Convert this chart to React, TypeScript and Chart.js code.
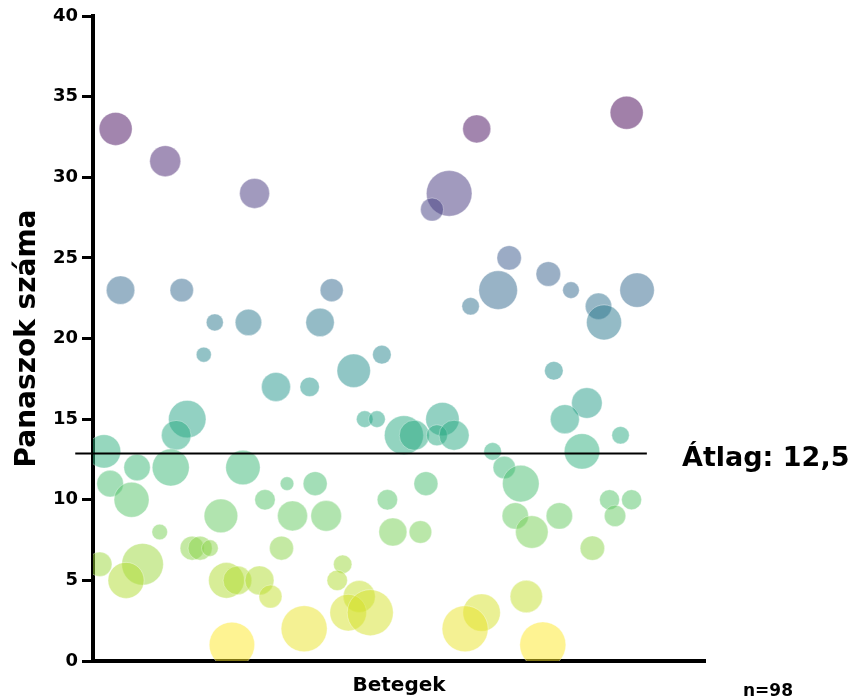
import React, { useEffect, useRef } from "react";
import { Chart, registerables } from "chart.js";

Chart.register(...registerables);

// Patient position along the "Betegek" axis (0–100 scale, no ticks shown)
const patientX = [
  3.7, 11.8, 26.4, 58.2, 55.4, 62.7, 87.2,
  4.5, 14.5, 39.0, 19.9, 25.4, 37.1, 68.0, 66.2, 61.7, 74.4, 78.1, 82.6, 83.5, 88.9,
  18.1, 47.2, 29.9, 35.4, 42.6, 75.3,
  80.7, 15.4, 13.6, 1.8, 44.4, 46.4, 77.1, 86.2, 79.9, 50.8, 52.5, 57.1, 56.2, 59.0, 65.3,
  7.2, 12.7, 24.5, 2.8, 6.3, 28.1, 31.7, 36.3, 67.2, 69.9, 54.4, 48.1, 84.4, 88.0,
  10.9, 20.9, 32.6, 38.1, 16.2, 17.5, 19.1, 30.8, 49.0, 53.5, 69.0, 71.7, 76.2, 85.3, 81.6,
  1.1, 8.1, 5.4, 21.8, 23.6, 27.2, 29.0, 40.8, 39.9, 43.5, 70.8,
  41.7, 45.3, 22.7, 34.5, 63.5, 60.8, 73.5,
];

// Number of complaints per patient
const complaintCounts = [
  33, 31, 29, 29, 28, 33, 34,
  23, 23, 23, 21, 21, 21, 25, 23, 22, 24, 23, 22, 21, 23,
  19, 19, 17, 17, 18, 18,
  16, 15, 14, 13, 15, 15, 15, 14, 13, 14, 14, 15, 14, 14, 13,
  12, 12, 12, 11, 10, 10, 11, 11, 12, 11, 11, 10, 10, 10,
  8, 9, 9, 9, 7, 7, 7, 7, 8, 8, 9, 8, 9, 9, 7,
  6, 6, 5, 5, 5, 5, 4, 6, 5, 4, 4,
  3, 3, 1, 2, 3, 2, 1,
];

// Bubble size (radius) per patient
const bubbleSizes = [
  16.5, 15.5, 15, 22.8, 11.5, 14, 16.5,
  14.2, 11.7, 11.5, 8.5, 13.2, 14.2, 12.2, 19.3, 8.7, 12.3, 8.3, 13.2, 17.5, 17.2,
  7.5, 9.3, 14.5, 9.7, 16.7, 9.3,
  15.3, 18.7, 14.8, 16.7, 8.3, 8.3, 14.5, 8.7, 17.7, 19.5, 15, 16.7, 10.5, 15, 8.8,
  13.2, 18.5, 17.2, 13.3, 17.5, 10.2, 6.8, 12, 11.2, 18.3, 12, 10.2, 10, 10,
  7.8, 16.8, 15, 15.3, 12, 12, 8.3, 12, 14, 11.3, 13.2, 16.3, 13.2, 10.7, 12.2,
  12.2, 20.8, 18, 17.8, 14.3, 14.5, 11.5, 9.2, 10.2, 16, 16.2,
  18.3, 23, 22.7, 23, 18.7, 23, 23,
];

const Y_TICK_MIN = 0;
const Y_TICK_MAX = 40;
const Y_TICK_STEP = 5;

const AVERAGE_VALUE = 12.9;
const AVERAGE_LINE_START = -2.9;
const AVERAGE_LINE_END = 90.5;
const AVERAGE_LABEL = "Átlag: 12,5";
const SAMPLE_LABEL = "n=98";
const Y_TITLE = "Panaszok száma";
const X_TITLE = "Betegek";

const FONT = '"DejaVu Sans", "Liberation Sans", sans-serif';

const VIRIDIS: number[][] = [
  [68, 1, 84],
  [71, 45, 123],
  [59, 82, 139],
  [44, 114, 142],
  [33, 145, 140],
  [40, 174, 128],
  [94, 201, 98],
  [173, 220, 48],
  [253, 231, 37],
];

function viridis(t: number, alpha: number): string {
  const tt = Math.max(0, Math.min(1, t)) * (VIRIDIS.length - 1);
  const i = Math.min(VIRIDIS.length - 2, Math.floor(tt));
  const f = tt - i;
  const a = VIRIDIS[i];
  const b = VIRIDIS[i + 1];
  const c = a.map((v, k) => Math.round(v + (b[k] - v) * f));
  return `rgba(${c[0]},${c[1]},${c[2]},${alpha})`;
}

const maxCount = Math.max(...complaintCounts);
const minCount = Math.min(...complaintCounts);
function colorFor(v: number): string {
  return viridis((maxCount - v) / (maxCount - minCount), 0.5);
}

const overlayPlugin = {
  id: "overlay",
  afterDraw(chart: any) {
    const { ctx, scales, chartArea } = chart;
    const x = scales.x;
    const y = scales.y;
    const py = Math.round(y.getPixelForValue(AVERAGE_VALUE)) + 0.5;
    ctx.save();
    ctx.strokeStyle = "#000";
    ctx.lineWidth = 2;
    ctx.beginPath();
    ctx.moveTo(x.getPixelForValue(AVERAGE_LINE_START), py);
    ctx.lineTo(x.getPixelForValue(AVERAGE_LINE_END), py);
    ctx.stroke();

    ctx.fillStyle = "#000";
    ctx.textAlign = "left";
    ctx.textBaseline = "alphabetic";
    ctx.font = `bold 27px ${FONT}`;
    ctx.fillText(AVERAGE_LABEL, chartArea.right - 23, py + 12);
    ctx.font = `bold 17px ${FONT}`;
    ctx.fillText(SAMPLE_LABEL, chartArea.right + 38, chart.height - 2);
    ctx.restore();
  },
};

export default function App() {
  const canvasRef = useRef<HTMLCanvasElement | null>(null);

  useEffect(() => {
    if (!canvasRef.current) return;
    const points = patientX.map((x, i) => ({
      x,
      y: complaintCounts[i],
      r: bubbleSizes[i],
    }));
    const chart = new Chart(canvasRef.current, {
      type: "bubble",
      data: {
        datasets: [
          {
            label: "Panaszok",
            data: points,
            backgroundColor: (ctx: any) => colorFor(ctx.raw ? ctx.raw.y : 0),
            borderColor: "rgba(255,255,255,0.35)",
            borderWidth: 1,
            hoverRadius: 0,
            clip: 0,
          } as any,
        ],
      },
      options: {
        responsive: false,
        animation: false,
        events: [],
        layout: {
          autoPadding: false,
          padding: { left: 0, right: 145, top: 16, bottom: 0 },
        },
        plugins: {
          legend: { display: false },
          tooltip: { enabled: false },
          title: { display: false },
        },
        scales: {
          x: {
            type: "linear",
            min: 0,
            max: 100,
            z: 1,
            grid: { display: false },
            ticks: { display: false },
            border: { display: true, color: "#000", width: 4 },
            title: {
              display: true,
              text: X_TITLE,
              color: "#000",
              font: { family: FONT, size: 20, weight: "bold" },
              padding: { top: 0, bottom: 0 },
            },
            afterFit: (scale: any) => {
              scale.height = 37;
              scale.paddingLeft = 0;
              scale.paddingRight = 0;
            },
          },
          y: {
            type: "linear",
            min: Y_TICK_MIN,
            max: Y_TICK_MAX,
            z: 1,
            ticks: {
              stepSize: Y_TICK_STEP,
              color: "#000",
              padding: 4,
              font: { family: FONT, size: 18, weight: "bold" },
            },
            grid: {
              display: true,
              drawOnChartArea: false,
              drawTicks: true,
              tickLength: 11,
              tickColor: "#000",
              tickWidth: 3,
              color: "#000",
              lineWidth: 3,
            },
            border: { display: true, color: "#000", width: 4 },
            title: {
              display: true,
              text: Y_TITLE,
              color: "#000",
              font: { family: FONT, size: 28, weight: "bold" },
              padding: { top: 11, bottom: 0 },
            },
            afterFit: (scale: any) => {
              scale.width = 93;
              scale.paddingTop = 0;
              scale.paddingBottom = 0;
            },
          },
        },
      },
      plugins: [overlayPlugin],
    } as any);
    return () => chart.destroy();
  }, []);

  return (
    <div
      style={{
        position: "fixed",
        left: 0,
        top: 0,
        width: 850,
        height: 698,
        background: "#fff",
      }}
    >
      <canvas ref={canvasRef} width={850} height={698} />
    </div>
  );
}
